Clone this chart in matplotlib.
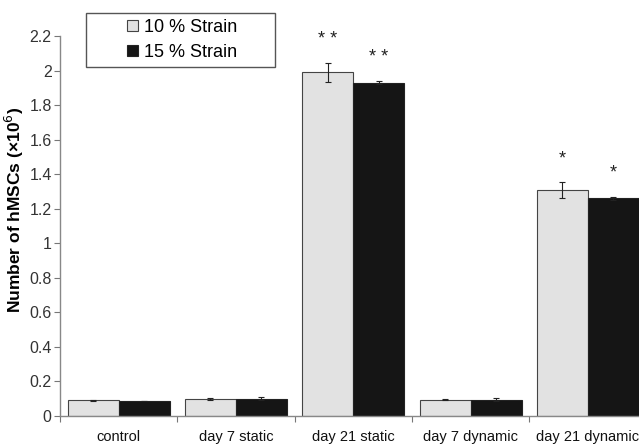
import matplotlib
matplotlib.use("Agg")
import matplotlib.pyplot as plt
from matplotlib.patches import Rectangle
import numpy as np

categories = ["control", "day 7 static", "day 21 static", "day 7 dynamic", "day 21 dynamic"]
strain10 = [0.090, 0.098, 1.990, 0.095, 1.308]
strain10_err = [0.004, 0.004, 0.055, 0.003, 0.045]
strain15 = [0.087, 0.100, 1.930, 0.095, 1.260]
strain15_err = [0.002, 0.008, 0.010, 0.008, 0.008]
stars10 = ["", "", "* *", "", "*"]
stars15 = ["", "", "* *", "", "*"]
series_labels = ["10 % Strain", "15 % Strain"]

plt.rcParams['font.family'] = ['Liberation Sans', 'DejaVu Sans']

fig = plt.figure(figsize=(6.39, 4.46), dpi=100)
ax = fig.add_axes([60/639, 30/446, 586.5/639, 380/446])

x = np.arange(len(categories))
w = 0.435
ekw = dict(ecolor='#222222', elinewidth=0.8, capsize=2.5, capthick=0.8)
b1 = ax.bar(x - w/2, strain10, w, yerr=strain10_err, color='#e2e2e2', edgecolor='#444444',
            linewidth=0.8, error_kw=ekw, label=series_labels[0])
b2 = ax.bar(x + w/2, strain15, w, yerr=strain15_err, color='#151515', edgecolor='#222222',
            linewidth=0.8, error_kw=ekw, label=series_labels[1])

for xs, vals, errs, stars in [(x - w/2, strain10, strain10_err, stars10),
                              (x + w/2, strain15, strain15_err, stars15)]:
    for xi, v, e, s in zip(xs, vals, errs, stars):
        if s:
            ax.annotate(s, (xi, v + e), xytext=(0, 17), textcoords='offset points',
                        ha='center', va='center', fontsize=13, color='#222222')

ax.set_xlim(-0.5, len(categories) - 0.5)
ax.set_ylim(0, 2.2)
ax.set_yticks(np.arange(0, 2.21, 0.2))
ax.set_yticklabels(["0", "0.2", "0.4", "0.6", "0.8", "1", "1.2", "1.4", "1.6", "1.8", "2", "2.2"])
ax.set_xticks(np.arange(len(categories) + 1) - 0.5)
ax.set_xticklabels([])
ax.set_xticks(x, minor=True)
ax.set_xticklabels(categories, minor=True)
ax.tick_params(axis='x', which='minor', length=0, pad=10, labelsize=10.5, labelcolor='#111111')
ax.tick_params(axis='x', which='major', length=4, color='#777777', direction='out')
ax.tick_params(axis='y', length=4, color='#777777', labelsize=11.5, labelcolor='#333333', pad=2)

for sp in ['top', 'right']:
    ax.spines[sp].set_visible(False)
for sp in ['left', 'bottom']:
    ax.spines[sp].set_color('#888888')
    ax.spines[sp].set_linewidth(1.0)

ax.set_ylabel("Number of hMSCs (×10$^6$)", fontsize=12.5, fontweight='bold')
ax.yaxis.set_label_coords(-(60 - 26) / 586.5, (416 - 210) / 380)

# legend frame drawn separately (box wider than content)
fig.patches.append(Rectangle((86/639, 1 - 67/446), 189/639, 54/446, transform=fig.transFigure,
                             facecolor='white', edgecolor='#555555', linewidth=1.0, zorder=5))
leg = fig.legend(handles=[b1, b2], labels=series_labels, loc='center',
                 bbox_to_anchor=(182/639, 1 - 40/446), frameon=False,
                 fontsize=13, handlelength=0.6, handleheight=0.6,
                 handletextpad=0.35, borderpad=0.0, labelspacing=0.45)
leg.set_zorder(6)

fig.savefig("out.png", dpi=100)
